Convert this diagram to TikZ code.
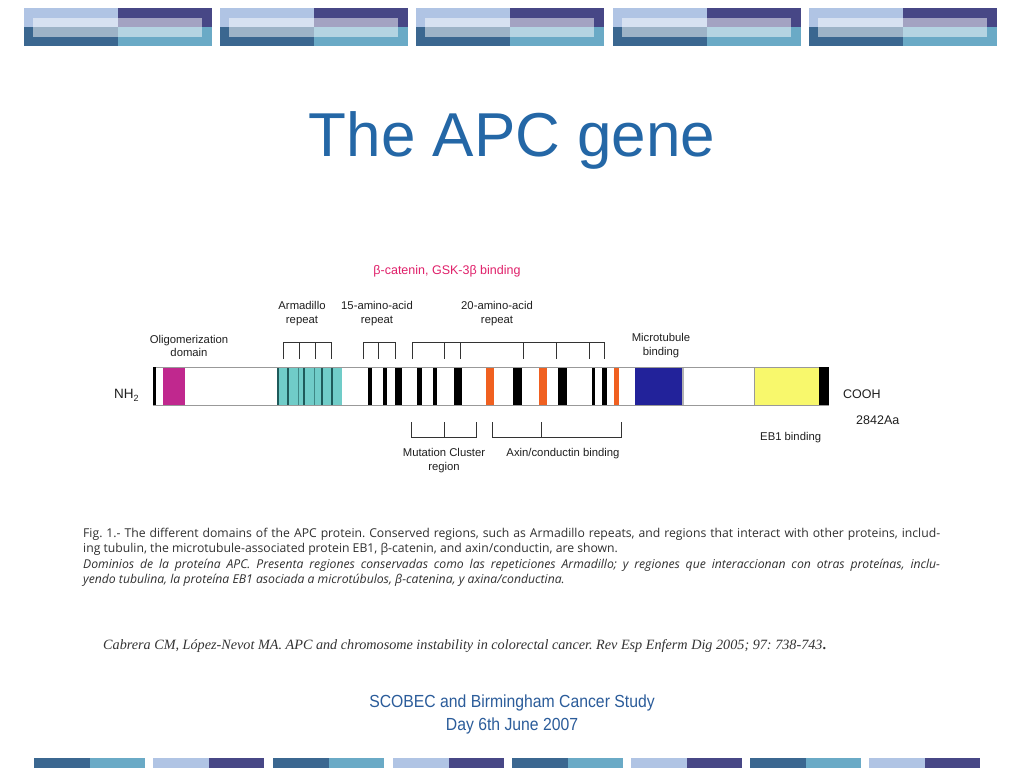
\documentclass[tikz,border=0pt]{standalone}
\usepackage{fontspec}
\setmainfont{Liberation Sans}
\newfontfamily\capfont{Open Sans}
\newfontfamily\citefont{Liberation Serif}
\newfontfamily\footfont[FakeStretch=0.9]{Liberation Sans}
\definecolor{bLight}{HTML}{B0C4E4}
\definecolor{bNavy}{HTML}{474786}
\definecolor{bSteel}{HTML}{3B6790}
\definecolor{bTeal}{HTML}{6AAAC6}
\definecolor{titleblue}{HTML}{2467A6}
\definecolor{footblue}{HTML}{2B5C9A}
\definecolor{magentaD}{HTML}{C0288E}
\definecolor{cyanD}{HTML}{70CCC8}
\definecolor{cyanLine}{HTML}{1E5A5A}
\definecolor{navyD}{HTML}{22229A}
\definecolor{yellowD}{HTML}{F8F86C}
\definecolor{orangeD}{HTML}{F06020}
\definecolor{betared}{HTML}{E0206A}
\definecolor{captext}{HTML}{303030}
\frenchspacing
\begin{document}
\begin{tikzpicture}[x=1pt,y=-1pt,
  lbl/.style={font=\fontsize{11.3pt}{13.5pt}\selectfont, text=black!88, align=center, inner sep=0pt},
  brk/.style={draw=black!80, line width=0.8pt}]
\useasboundingbox (0,0) rectangle (1024,768);
\fill[white] (0,0) rectangle (1024,768);
% top banner
\foreach \x in {24,220,416,613,809}{
  \fill[bLight] (\x,8) rectangle +(94,19);
  \fill[bNavy] (\x+94,8) rectangle +(94,19);
  \fill[bSteel] (\x,27) rectangle +(94,19);
  \fill[bTeal] (\x+94,27) rectangle +(94,19);
  \fill[white,opacity=0.5] (\x+9,18) rectangle (\x+178,37);
}
% bottom banner
\foreach \x [count=\i] in {34,153,273,393,512,631,750,869}{
  \ifodd\i
    \fill[bSteel] (\x,758) rectangle +(55.5,10);
    \fill[bTeal] (\x+55.5,758) rectangle +(55.5,10);
  \else
    \fill[bLight] (\x,758) rectangle +(55.5,10);
    \fill[bNavy] (\x+55.5,758) rectangle +(55.5,10);
  \fi
}
% title
\node[text=titleblue, font=\fontsize{62pt}{70pt}\selectfont, anchor=base] (title) at (512,156) {The APC gene};
% protein bar
\draw[draw=black!40, line width=0.8pt] (153,367) -- (829,367) (153,405) -- (829,405);
\fill[black] (153,367) rectangle (155.5,405);
\fill[magentaD] (163,367.5) rectangle (185,404.5);
\fill[cyanD] (277,367.5) rectangle (342,404.5);
\foreach \lx in {278,288,304,322,332}{\fill[cyanLine] (\lx-0.8,367.5) rectangle (\lx+0.8,404.5);}
\foreach \lx in {298,314}{\fill[cyanLine!60!cyanD] (\lx-0.5,367.5) rectangle (\lx+0.5,404.5);}
\foreach \a/\b in {368/372,383/387,395/402,417/422,433/437,454/462,513/522,558/567,592/595,602/607}{
  \fill[black] (\a,367.5) rectangle (\b,404.5);}
\foreach \a/\b in {486/494,539/547,614/619}{
  \fill[orangeD] (\a,367.5) rectangle (\b,404.5);}
\fill[navyD] (635,367.5) rectangle (682,404.5);
\fill[black!30] (682,367.5) rectangle (683.5,404.5);
\fill[yellowD] (754,367.5) rectangle (819,404.5);
\draw[black!40, line width=0.8pt] (754,367) -- (754,405);
\fill[black] (819,367) rectangle (829,405);
% top brackets
\draw[brk] (283,359) -- (283,342) -- (331,342) -- (331,359);
\foreach \t in {299,315}{\draw[brk] (\t,342) -- (\t,359);}
\draw[brk] (363,359) -- (363,342) -- (395,342) -- (395,359);
\draw[brk] (378,342) -- (378,359);
\draw[brk] (412,359) -- (412,342) -- (604,342) -- (604,359);
\foreach \t in {444,460,523,556,589}{\draw[brk] (\t,342) -- (\t,359);}
% bottom brackets
\draw[brk] (411,422) -- (411,437) -- (476,437) -- (476,422);
\draw[brk] (444,422) -- (444,437);
\draw[brk] (492,422) -- (492,437) -- (621,437) -- (621,422);
\draw[brk] (541,422) -- (541,437);
% labels
\node[lbl, text=betared, font=\fontsize{12.5pt}{14pt}\selectfont] (beta) at (447,271) {β-catenin, GSK-3β binding};
\node[lbl] (armlab) at (302,313.5) {Armadillo\\repeat};
\node[lbl] (aa15) at (377,313.5) {15-amino-acid\\repeat};
\node[lbl] (aa20) at (497,313.5) {20-amino-acid\\repeat};
\node[lbl] (olig) at (189,346) {Oligomerization\\domain};
\node[lbl] (micro) at (661,345.5) {Microtubule\\binding};
\node[lbl, font=\fontsize{13.5pt}{15pt}\selectfont, anchor=base west] (nh2) at (114,398.5) {NH\raisebox{-0.35ex}{\fontsize{9pt}{10pt}\selectfont 2}};
\node[lbl, font=\fontsize{12.5pt}{14pt}\selectfont, anchor=base west] (cooh) at (843,398) {COOH};
\node[lbl, font=\fontsize{12.5pt}{14pt}\selectfont, anchor=base west] (aa) at (856,424.5) {2842Aa};
\node[lbl, anchor=base west] (eb1) at (760,440) {EB1 binding};
\node[lbl] (mcr) at (444,460.5) {Mutation Cluster\\region};
\node[lbl] (axin) at (563,454) {Axin/conductin binding};
% caption
\node[anchor=north west, inner sep=0pt, text width=857pt, align=justify, text=captext,
      font=\capfont\fontsize{12.2pt}{15.5pt}\selectfont] (caption) at (83,527.5)
 {Fig. 1.- The different domains of the APC protein. Conserved regions, such as Armadillo repeats, and regions that interact with other proteins, includ-\linebreak
 ing tubulin, the microtubule-associated protein EB1, β-catenin, and axin/conductin, are shown.\newline
 \itshape Dominios de la proteína APC. Presenta regiones conservadas como las repeticiones Armadillo; y regiones que interaccionan con otras proteínas, inclu-\linebreak
 yendo tubulina, la proteína EB1 asociada a microtúbulos, β-catenina, y axina/conductina.\par};
% citation
\node[anchor=base west, inner sep=0pt, text=black!80, font=\citefont\fontsize{14.2pt}{16pt}\selectfont] (cite) at (103,649)
 {\itshape Cabrera CM, López-Nevot MA. APC and chromosome instability in colorectal cancer. Rev Esp Enferm Dig 2005; 97: 738-743\upshape\bfseries .};
% footer
\node[align=center, text=footblue, inner sep=0pt, font=\footfont\fontsize{17.5pt}{23pt}\selectfont] (foot) at (512,714)
 {SCOBEC and Birmingham Cancer Study\\Day 6th June 2007};
\end{tikzpicture}
\end{document}
